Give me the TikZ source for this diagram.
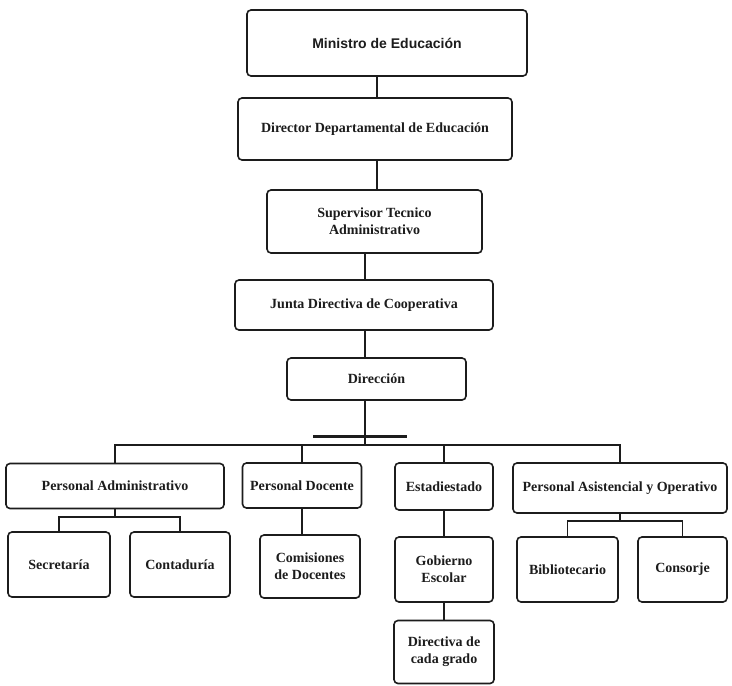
\documentclass[tikz,border=0pt]{standalone}
\usepackage{fontspec}
\setmainfont{Liberation Serif}
\newfontfamily\headfont{Liberation Sans}
\definecolor{ink}{HTML}{1C1C1C}
\definecolor{paper}{HTML}{FFFFFF}

\begin{document}
\begin{tikzpicture}[x=1pt,y=-1pt,font=\fontsize{14}{17}\selectfont\bfseries,text=ink,
  orgbox/.style={draw=ink,line width=1.6pt,rounded corners=4pt,align=center,inner sep=2pt},
  link/.style={draw=ink,line width=1.5pt}]
  \useasboundingbox[fill=paper] (0,0) rectangle (732,686);

  % upper chain
  \node[orgbox,minimum width=280,minimum height=66,font=\headfont\fontsize{14}{16}\selectfont\bfseries]
    (min) at (387,43) {Ministro de Educación};
  \node[orgbox,minimum width=274,minimum height=62] (dir) at (375,129)
    {Director Departamental de Educación};
  \node[orgbox,minimum width=215,minimum height=63] (sup) at (374.5,221.5)
    {Supervisor Tecnico\\Administrativo};
  \node[orgbox,minimum width=258,minimum height=50] (jun) at (364,305)
    {Junta Directiva de Cooperativa};
  \node[orgbox,minimum width=179,minimum height=42] (dirc) at (376.5,379)
    {Dirección};

  % second row
  \node[orgbox,minimum width=218,minimum height=45] (padm) at (115,486)
    {Personal Administrativo};
  \node[orgbox,minimum width=119,minimum height=45] (pdoc) at (302,485.5)
    {Personal Docente};
  \node[orgbox,minimum width=98,minimum height=47] (est) at (444,486.5)
    {Estadiestado};
  \node[orgbox,minimum width=214,minimum height=50] (pasi) at (620,488)
    {Personal Asistencial y Operativo};

  % third row
  \node[orgbox,minimum width=102,minimum height=65] (sec) at (59,564.5) {Secretaría};
  \node[orgbox,minimum width=100,minimum height=65] (cont) at (180,564.5) {Contaduría};
  \node[orgbox,minimum width=100,minimum height=63] (com) at (310,566.5)
    {Comisiones\\de Docentes};
  \node[orgbox,minimum width=98,minimum height=65] (gob) at (444,569.5)
    {Gobierno\\Escolar};
  \node[orgbox,minimum width=101,minimum height=65] (bib) at (567.5,569.5) {Bibliotecario};
  \node[orgbox,minimum width=89,minimum height=65] (cons) at (682.5,569.5) {Consorje};
  \node[orgbox,minimum width=100,minimum height=63] (dcg) at (444,652)
    {Directiva de\\cada grado};

  % connectors
  \coordinate (spine) at (377,0);
  \coordinate (stem) at (365,0);
  \draw[link] (min.south -| spine) -- (dir.north -| spine);
  \draw[link] (dir.south -| spine) -- (sup.north -| spine);
  \draw[link] (sup.south -| stem) -- (jun.north -| stem);
  \draw[link] (jun.south -| stem) -- (dirc.north -| stem);

  \coordinate (bus) at (365,445);
  \fill[ink] (313,435) rectangle (407,438);
  \draw[link] (dirc.south -| stem) -- (bus);
  \draw[link] (padm.north) |- (bus) -| (pasi.north);
  \draw[link] (pdoc.north) -- (pdoc.north |- bus);
  \draw[link] (est.north) -- (est.north |- bus);

  \coordinate (pabus) at (108,517);
  \draw[link] (padm.south) -- (padm.south |- pabus);
  \draw[link] (sec.north) |- (pabus) -| (cont.north);
  \draw[link] (pdoc.south) -- (com.north -| pdoc.south);

  \coordinate (asbus) at (617,521);
  \draw[link] (pasi.south) -- (pasi.south |- asbus);
  \draw[link] (bib.north) |- (asbus) -| (cons.north);

  \draw[link] (est) -- (gob);
  \draw[link] (gob) -- (dcg);
\end{tikzpicture}
\end{document}
